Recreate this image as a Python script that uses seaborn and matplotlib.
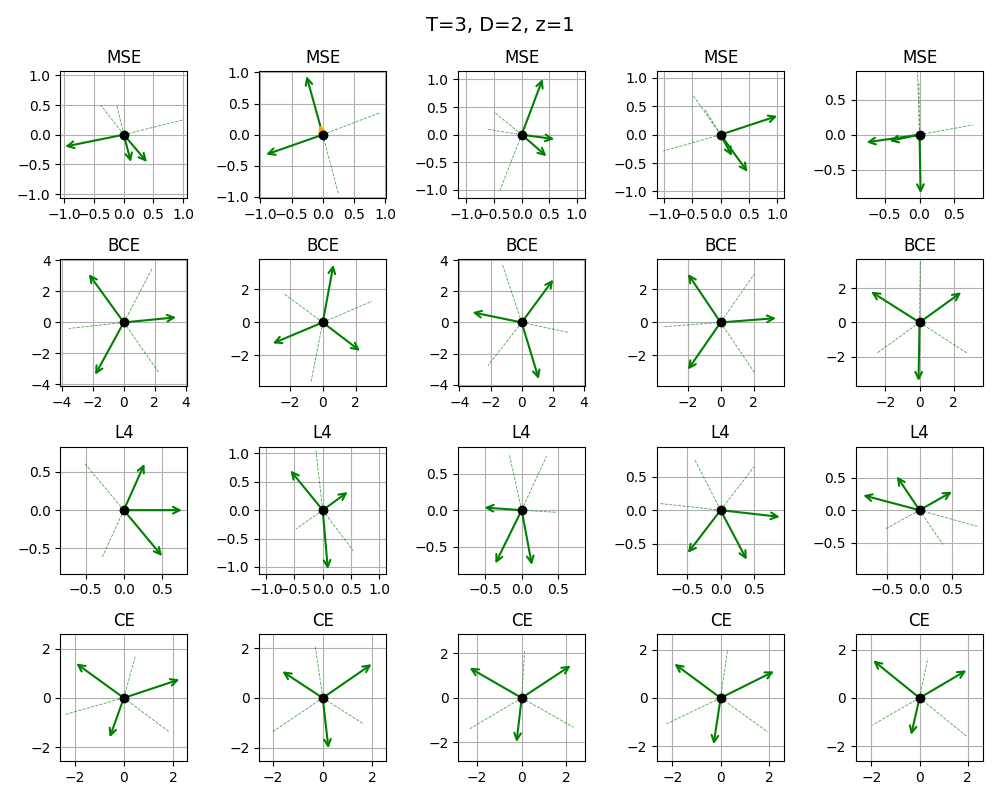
import matplotlib
matplotlib.use('Agg')
import matplotlib.pyplot as plt
from matplotlib.ticker import MaxNLocator
import seaborn as sns
import pandas as pd

suptitle = 'T=3, D=2, z=1'
losses = ['MSE', 'BCE', 'L4', 'CE']

# solid arrows (tips) per panel
mse_arrows = [
    [(-0.99, -0.20), (0.12, -0.46), (0.39, -0.46)],
    [(-0.26, 0.94), (-0.91, -0.32)],
    [(0.38, 1.01), (0.59, -0.08), (0.45, -0.39)],
    [(1.00, 0.33), (0.20, -0.375), (0.475, -0.655)],
    [(-0.76, -0.11), (-0.43, -0.09), (0.015, -0.84)],
]
bce_arrows = [
    [(3.38, 0.33), (-2.26, 3.12), (-1.85, -3.38)],
    [(0.65, 3.50), (-3.03, -1.27), (2.26, -1.72)],
    [(2.03, 2.75), (-3.16, 0.65), (1.10, -3.64)],
    [(3.36, 0.26), (-1.98, 2.94), (-1.98, -2.86)],
    [(-2.84, 1.80), (2.44, 1.76), (-0.06, -3.43)],
]
l4_arrows = [
    [(0.27, 0.605), (0.76, 0.0), (0.50, -0.60)],
    [(-0.57, 0.70), (0.44, 0.32), (0.09, -1.04)],
    [(-0.51, 0.036), (-0.36, -0.73), (0.14, -0.75)],
    [(0.885, -0.10), (-0.49, -0.64), (0.39, -0.74)],
    [(-0.87, 0.23), (-0.35, 0.52), (0.50, 0.285)],
]
ce_arrows = [
    [(-1.93, 1.40), (2.26, 0.75), (-0.57, -1.60)],
    [(-1.63, 1.07), (1.97, 1.36), (0.23, -2.03)],
    [(-2.34, 1.35), (2.20, 1.45), (-0.23, -1.98)],
    [(-1.91, 1.41), (2.21, 1.10), (-0.29, -1.92)],
    [(-1.92, 1.55), (1.94, 1.14), (-0.35, -1.53)],
]

# dashed rays (ends) per panel
mse_dashes = [
    [(-0.39, 0.50), (-0.12, 0.50), (1.00, 0.25)],
    [(0.91, 0.35), (0.25, -0.94), (0.02, -0.05)],
    [(-0.50, 0.41), (-0.64, 0.10), (-0.39, -1.00)],
    [(-0.49, 0.70), (-0.28, 0.45), (-1.01, -0.29)],
    [(-0.03, 0.90), (-0.01, 0.75), (0.77, 0.14)],
]
bce_dashes = [
    [(1.83, 3.47), (-3.56, -0.39), (2.24, -3.21)],
    [(-2.38, 1.76), (2.99, 1.29), (-0.71, -3.60)],
    [(-1.24, 3.73), (3.06, -0.65), (-2.17, -2.78)],
    [(2.04, 2.94), (-3.51, -0.26), (2.04, -3.02)],
    [(0.04, 3.60), (-2.52, -1.82), (2.82, -1.82)],
]
l4_dashes = [
    [(-0.51, 0.61), (-0.28, -0.61), (0.70, 0.01)],
    [(-0.12, 1.05), (-0.47, -0.33), (0.54, -0.72)],
    [(-0.17, 0.77), (0.34, 0.74), (0.48, -0.03)],
    [(-0.39, 0.76), (0.50, 0.65), (-0.91, 0.10)],
    [(0.89, -0.25), (-0.52, -0.285), (0.36, -0.53)],
]
ce_dashes = [
    [(0.47, 1.70), (-2.41, -0.68), (1.86, -1.39)],
    [(-0.30, 2.09), (-2.01, -1.36), (1.63, -1.04)],
    [(0.13, 2.10), (-2.34, -1.39), (2.33, -1.32)],
    [(0.29, 2.01), (-2.24, -1.07), (1.95, -1.41)],
    [(0.34, 1.64), (-1.95, -1.12), (1.94, -1.58)],
]

# orange arrow (only visible in MSE panel 2)
mse_orange = [None, (-0.05, 0.16), None, None, None]

# symmetric axis half-ranges per panel
mse_lims = [1.07, 1.02, 1.15, 1.12, 0.91]
bce_lims = [4.10, 3.85, 4.08, 3.85, 3.72]
l4_lims = [0.83, 1.12, 0.87, 0.95, 0.98]
ce_lims = [2.58, 2.56, 2.85, 2.63, 2.63]

all_arrows = [mse_arrows, bce_arrows, l4_arrows, ce_arrows]
all_dashes = [mse_dashes, bce_dashes, l4_dashes, ce_dashes]
all_lims = [mse_lims, bce_lims, l4_lims, ce_lims]

fig, axes = plt.subplots(4, 5, figsize=(10, 8), dpi=100)

for r, loss in enumerate(losses):
    for c in range(5):
        ax = axes[r, c]
        for (dx, dy) in all_dashes[r][c]:
            df = pd.DataFrame({'x': [0.0, dx], 'y': [0.0, dy]})
            ax.plot(df['x'], df['y'], color='green', linestyle='--',
                    linewidth=0.6, alpha=0.7, zorder=2)
        for (tx, ty) in all_arrows[r][c]:
            ax.annotate('', xy=(tx, ty), xytext=(0, 0),
                        arrowprops=dict(arrowstyle='->', color='green',
                                        lw=1.5, shrinkA=0, shrinkB=0,
                                        mutation_scale=12), zorder=3)
        if r == 0 and mse_orange[c] is not None:
            ox, oy = mse_orange[c]
            ax.annotate('', xy=(ox, oy), xytext=(0, 0),
                        arrowprops=dict(arrowstyle='-|>', color='orange',
                                        lw=1.5, shrinkA=0, shrinkB=0,
                                        mutation_scale=10), zorder=3.5)
        sns.scatterplot(x=[0.0], y=[0.0], ax=ax, color='black', s=50,
                        zorder=4, linewidth=0, legend=False)
        lim = all_lims[r][c]
        ax.set_xlim(-lim, lim)
        ax.set_ylim(-lim, lim)
        ax.xaxis.set_major_locator(MaxNLocator(nbins=5, steps=[1, 2, 2.5, 5, 10]))
        ax.yaxis.set_major_locator(MaxNLocator(nbins=5, steps=[1, 2, 2.5, 5, 10]))
        ax.set_aspect('equal')
        ax.grid(True)
        ax.set_xlabel('')
        ax.set_ylabel('')
        ax.set_title(loss)

fig.suptitle(suptitle, fontsize=14)
fig.tight_layout()
fig.savefig('out.png', dpi=100)
